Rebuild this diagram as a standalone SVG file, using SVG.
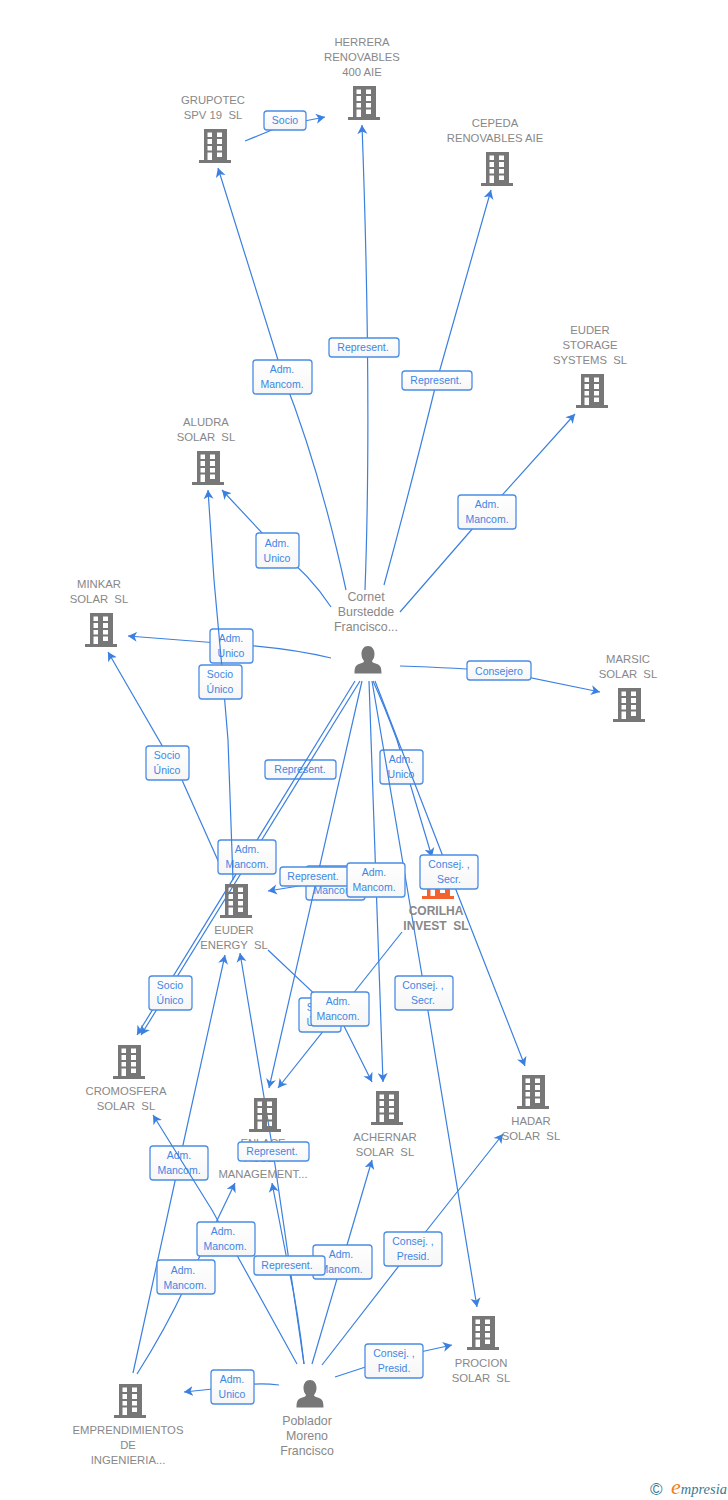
<svg xmlns="http://www.w3.org/2000/svg" width="728" height="1500" viewBox="0 0 728 1500">
<style>
.e{fill:none;stroke:#3b80e0;stroke-width:1.2;marker-end:url(#a)}
.n{fill:none;stroke:#3b80e0;stroke-width:1.2}
.b{fill:url(#g);stroke:#4a8de6;stroke-width:1.3}
.l{font:10.5px "Liberation Sans",Arial,sans-serif;fill:#3f86e4;text-anchor:middle}
.t{font:11.3px "Liberation Sans",Arial,sans-serif;fill:#888;text-anchor:middle;white-space:pre}
.p{font-size:12.4px}
.s{font-weight:bold;font-size:12px}
.i{color:#777}
.o{color:#f4632f}
</style>
<defs>
<linearGradient id="g" x1="0" y1="0" x2="0" y2="1"><stop offset="0" stop-color="#fff"/><stop offset="1" stop-color="#f6f6f6"/></linearGradient>
<marker id="a" markerUnits="userSpaceOnUse" markerWidth="12" markerHeight="12" refX="9" refY="6" orient="auto"><path d="M0 1 L9 6 L0 11 L2.5 6z" fill="#3b80e0"/></marker>
<symbol id="bd" width="32" height="34" viewBox="0 0 32 34"><path fill="currentColor" fill-rule="evenodd" d="M5 0H28V31H32V34H0V31H5ZM8.5 3.5V8H13V3.500ZM18 3.500V8H23V3.500ZM8.500 10V15H13V10ZM18 10V15H23V10ZM8.500 17V21.500H13V17ZM18 17V21.500H23V17ZM18 23.500V28H23V23.500ZM8.500 23.500V31H13V23.500Z"/></symbol>
<symbol id="pr" width="28" height="28" viewBox="0 0 28 28"><path fill="currentColor" d="M14 0C18 0 20.500 3.500 20.500 8C20.500 11 19.500 13 18 15C18 16.500 20 17 23 18C26.500 19 27.500 22 27.500 27.500H.5C.5 22 1.500 19 5 18C8 17 10 16.500 10 15C8.500 13 7.500 11 7.500 8C7.500 3.500 10 0 14 0Z"/></symbol>
</defs>

<g id="connectors">
<path class="e" d="M245 141L284 125L325 117"/>
<path class="e" d="M346 590Q320 470 283 376L218 168"/>
<path class="e" d="M365 590Q372 400 362 125"/>
<path class="e" d="M384 585Q410 490 437 380L491 190"/>
<path class="e" d="M400 612L487 512L575 414"/>
<path class="e" d="M331 607Q310 575 278 550L222 490"/>
<path class="e" d="M331 658Q290 648 231 644L128 636"/>
<path class="e" d="M400 666Q460 668 498 671L600 692"/>
<path class="e" d="M373 681Q384 705 397 740L432 857"/>
<path class="e" d="M369 681L383 1082"/>
<path class="e" d="M182 780L108 652"/>
<path class="n" d="M182 780L224 874"/>
<path class="e" d="M311 884L268 891"/>
<path class="e" d="M268 950L340 1018L372 1082"/>
<path class="e" d="M402 932L340 1010L278 1088"/>
<path class="e" d="M133 1373L179 1163L225 955"/>
<path class="e" d="M137 1374Q165 1330 186 1285L235 1183"/>
<path class="e" d="M304 1364L273 1151L240 953"/>
<path class="e" d="M304 1364Q298 1310 288 1265L272 1183"/>
<path class="e" d="M312 1364L342 1262L372 1160"/>
<path class="e" d="M322 1365L412 1249L503 1134"/>
<path class="e" d="M335 1377L393 1358L452 1345"/>
<path class="e" d="M279 1385Q255 1382 232 1387L184 1392"/>
</g>

<g id="label-rep1"><rect class="b" x="265" y="760" width="71" height="19" rx="3"/><text class="l" x="300" y="773">Represent.</text></g>

<g id="connectors-2">
<path class="e" d="M355 681L137 1035"/>
<path class="e" d="M360 681L141 1035"/>
</g>

<g id="labels-1">
<g><rect class="b" x="210" y="629" width="43" height="34" rx="3"/><text class="l" x="231" y="642">Adm.</text><text class="l" x="231" y="657">Unico</text></g>
<g><rect class="b" x="218" y="840" width="58" height="34" rx="3"/><text class="l" x="247" y="853">Adm.</text><text class="l" x="247" y="868">Mancom.</text></g>
<g><rect class="b" x="380" y="750" width="43" height="34" rx="3"/><text class="l" x="401" y="763">Adm.</text><text class="l" x="401" y="778">Unico</text></g>
<g><rect class="b" x="150" y="1146" width="58" height="34" rx="3"/><text class="l" x="179" y="1159">Adm.</text><text class="l" x="179" y="1174">Mancom.</text></g>
<g><rect class="b" x="306" y="866" width="59" height="34" rx="3"/><text class="l" x="335" y="879">Adm.</text><text class="l" x="335" y="894">Mancom.</text></g>
</g>

<g id="connectors-3">
<path class="e" d="M233 880L228 740L222 668L214 580L208 490"/>
<path class="e" d="M372 681L425 993L477 1307"/>
<path class="e" d="M375 681L449 872L525 1066"/>
<path class="e" d="M297 1364L212 1210L153 1115"/>
<path class="e" d="M362 681L269 1088"/>
</g>

<g id="n-corilha"><use href="#bd" class="o" x="422" y="865"/><text class="t s" x="436" y="915">CORILHA</text><text class="t s" x="436" y="930">INVEST  SL</text></g>

<g id="labels-2">
<g><rect class="b" x="264" y="111" width="42" height="19" rx="3"/><text class="l" x="285" y="124">Socio</text></g>
<g><rect class="b" x="253" y="360" width="59" height="34" rx="3"/><text class="l" x="282" y="373">Adm.</text><text class="l" x="282" y="388">Mancom.</text></g>
<g><rect class="b" x="329" y="338" width="70" height="19" rx="3"/><text class="l" x="363" y="351">Represent.</text></g>
<g><rect class="b" x="402" y="371" width="70" height="19" rx="3"/><text class="l" x="436" y="384">Represent.</text></g>
<g><rect class="b" x="458" y="495" width="58" height="34" rx="3"/><text class="l" x="487" y="508">Adm.</text><text class="l" x="487" y="523">Mancom.</text></g>
<g><rect class="b" x="256" y="533" width="43" height="35" rx="3"/><text class="l" x="277" y="547">Adm.</text><text class="l" x="277" y="562">Unico</text></g>
<g><rect class="b" x="199" y="665" width="43" height="34" rx="3"/><text class="l" x="220" y="678">Socio</text><text class="l" x="220" y="693">Único</text></g>
<g><rect class="b" x="467" y="661" width="64" height="19" rx="3"/><text class="l" x="499" y="675">Consejero</text></g>
<g><rect class="b" x="146" y="746" width="43" height="34" rx="3"/><text class="l" x="167" y="759">Socio</text><text class="l" x="167" y="774">Único</text></g>
<g><rect class="b" x="280" y="867" width="71" height="19" rx="3"/><text class="l" x="313" y="880">Represent.</text></g>
<g><rect class="b" x="347" y="863" width="58" height="34" rx="3"/><text class="l" x="374" y="876">Adm.</text><text class="l" x="374" y="891">Mancom.</text></g>
<g><rect class="b" x="420" y="855" width="58" height="34" rx="3"/><text class="l" x="449" y="868">Consej. ,</text><text class="l" x="449" y="883">Secr.</text></g>
<g><rect class="b" x="149" y="976" width="43" height="34" rx="3"/><text class="l" x="170" y="989">Socio</text><text class="l" x="170" y="1004">Único</text></g>
<g><rect class="b" x="395" y="976" width="58" height="34" rx="3"/><text class="l" x="423" y="989">Consej. ,</text><text class="l" x="423" y="1004">Secr.</text></g>
<g><rect class="b" x="299" y="998" width="42" height="34" rx="3"/><text class="l" x="320" y="1011">Socio</text><text class="l" x="320" y="1026">Único</text></g>
<g><rect class="b" x="311" y="992" width="58" height="34" rx="3"/><text class="l" x="338" y="1005">Adm.</text><text class="l" x="338" y="1020">Mancom.</text></g>
</g>

<g id="n-grupotec"><use href="#bd" class="i" x="199" y="129"/><text class="t" x="213" y="104">GRUPOTEC</text><text class="t" x="213" y="119">SPV 19  SL</text></g>
<g id="n-herrera"><use href="#bd" class="i" x="348" y="86"/><text class="t" x="362" y="46">HERRERA</text><text class="t" x="362" y="61">RENOVABLES</text><text class="t" x="362" y="76">400 AIE</text></g>
<g id="n-cepeda"><use href="#bd" class="i" x="481" y="152"/><text class="t" x="495" y="127">CEPEDA</text><text class="t" x="495" y="142">RENOVABLES AIE</text></g>
<g id="n-euder-storage"><use href="#bd" class="i" x="576" y="374"/><text class="t" x="590" y="334">EUDER</text><text class="t" x="590" y="349">STORAGE</text><text class="t" x="590" y="364">SYSTEMS  SL</text></g>
<g id="n-aludra"><use href="#bd" class="i" x="192" y="451"/><text class="t" x="206" y="426">ALUDRA</text><text class="t" x="206" y="441">SOLAR  SL</text></g>
<g id="n-minkar"><use href="#bd" class="i" x="85" y="613"/><text class="t" x="99" y="588">MINKAR</text><text class="t" x="99" y="603">SOLAR  SL</text></g>
<g id="n-marsic"><use href="#bd" class="i" x="613" y="688"/><text class="t" x="628" y="663">MARSIC</text><text class="t" x="628" y="678">SOLAR  SL</text></g>
<g id="n-cornet"><use href="#pr" class="i" x="354" y="646"/><text class="t p" x="366" y="601">Cornet</text><text class="t p" x="366" y="616">Burstedde</text><text class="t p" x="366" y="631">Francisco...</text></g>
<g id="n-euder-energy"><use href="#bd" class="i" x="220" y="884"/><text class="t" x="234" y="934">EUDER</text><text class="t" x="234" y="949">ENERGY  SL</text></g>
<g id="n-cromosfera"><use href="#bd" class="i" x="113" y="1045"/><text class="t" x="126" y="1095">CROMOSFERA</text><text class="t" x="126" y="1110">SOLAR  SL</text></g>
<g id="n-achernar"><use href="#bd" class="i" x="371" y="1091"/><text class="t" x="385" y="1141">ACHERNAR</text><text class="t" x="385" y="1156">SOLAR  SL</text></g>
<g id="n-hadar"><use href="#bd" class="i" x="517" y="1075"/><text class="t" x="531" y="1125">HADAR</text><text class="t" x="531" y="1140">SOLAR  SL</text></g>
<g id="n-procion"><use href="#bd" class="i" x="467" y="1316"/><text class="t" x="481" y="1367">PROCION</text><text class="t" x="481" y="1382">SOLAR  SL</text></g>
<g id="n-emprendimientos"><use href="#bd" class="i" x="114" y="1384"/><text class="t" x="128" y="1434">EMPRENDIMIENTOS</text><text class="t" x="128" y="1449">DE</text><text class="t" x="128" y="1464">INGENIERIA...</text></g>
<g id="n-poblador"><use href="#pr" class="i" x="296" y="1380"/><text class="t p" x="307" y="1425">Poblador</text><text class="t p" x="307" y="1440">Moreno</text><text class="t p" x="307" y="1455">Francisco</text></g>
<g id="n-enlace"><use href="#bd" class="i" x="249" y="1098"/><text class="t" x="263" y="1147">ENLACE</text><text class="t" x="263" y="1162">ASSET</text><text class="t" x="263" y="1178">MANAGEMENT...</text></g>

<g id="labels-3">
<g><rect class="b" x="238" y="1142" width="71" height="19" rx="3"/><text class="l" x="272" y="1155">Represent.</text></g>
<g><rect class="b" x="313" y="1245" width="59" height="34" rx="3"/><text class="l" x="341" y="1258">Adm.</text><text class="l" x="341" y="1273">Mancom.</text></g>
<g><rect class="b" x="197" y="1222" width="58" height="34" rx="3"/><text class="l" x="223" y="1235">Adm.</text><text class="l" x="225" y="1250">Mancom.</text></g>
<g><rect class="b" x="157" y="1260" width="58" height="34" rx="3"/><text class="l" x="183" y="1274">Adm.</text><text class="l" x="185" y="1289">Mancom.</text></g>
<g><rect class="b" x="254" y="1256" width="71" height="19" rx="3"/><text class="l" x="287" y="1269">Represent.</text></g>
<g><rect class="b" x="384" y="1232" width="58" height="34" rx="3"/><text class="l" x="413" y="1245">Consej. ,</text><text class="l" x="413" y="1260">Presid.</text></g>
<g><rect class="b" x="365" y="1344" width="58" height="34" rx="3"/><text class="l" x="394" y="1357">Consej. ,</text><text class="l" x="394" y="1372">Presid.</text></g>
<g><rect class="b" x="211" y="1370" width="43" height="34" rx="3"/><text class="l" x="232" y="1383">Adm.</text><text class="l" x="232" y="1398">Unico</text></g>
</g>

<g id="logo"><text x="650" y="1495" font-family="'Liberation Sans',sans-serif" font-size="17" fill="#3a7a92">©</text><text x="671" y="1494" font-family="'Liberation Serif',serif" font-style="italic" font-size="14.500" fill="#3a7a92"><tspan font-size="22" fill="#f08020">e</tspan>mpresia</text></g>
</svg>
